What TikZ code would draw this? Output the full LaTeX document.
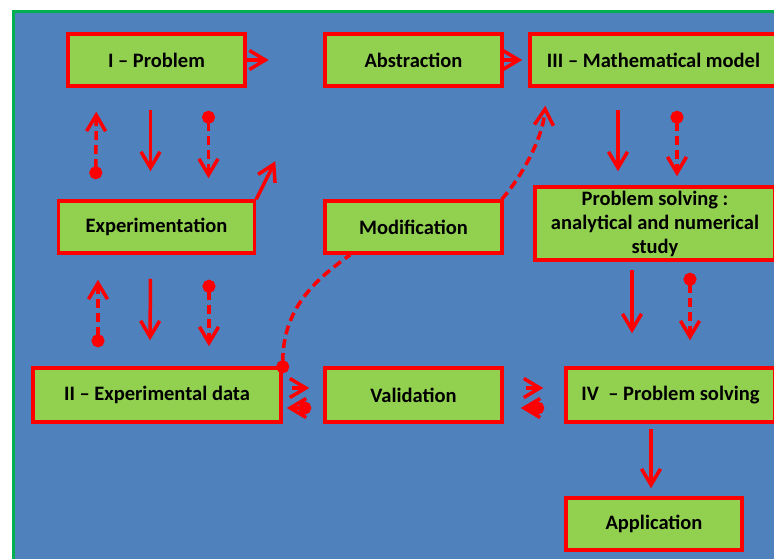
\documentclass[tikz,border=0pt]{standalone}
\usepackage{fontspec}
\setmainfont{Carlito}
\usetikzlibrary{positioning,calc,arrows.meta}
\definecolor{bgblue}{RGB}{79,129,189}
\definecolor{boxgreen}{RGB}{146,208,80}
\definecolor{framegreen}{RGB}{0,176,80}
\tikzset{box/.style = {draw=red, line width=3.5pt, fill=boxgreen, align=center, inner sep=2pt,
                       font=\bfseries\fontsize{20.5}{24}\selectfont, minimum height=52pt},
         arr/.style = {red, line width=3.5pt, -{Straight Barb[length=16pt,width=19pt]}},
         dasharr/.style = {arr, dash pattern=on 9pt off 5pt},
         dotarr/.style = {dasharr, {Circle[length=13pt]}-{Straight Barb[length=16pt,width=19pt]}},
         dotline/.style = {red, line width=3.5pt, dash pattern=on 9pt off 5pt, {Circle[length=13pt]}-}}

\begin{document}
\begin{tikzpicture}[x=1pt, y=-1pt, every node/.style = box]
            \useasboundingbox (0,0) rectangle (774,558);
            \fill[white] (0,0) rectangle (774,558);
            \draw[framegreen, line width=3pt, fill=bgblue] (13,11) rectangle (800,580);

            \node[minimum width=177pt] (prob) at (156.5,60) {I -- Problem};
            \node[minimum width=177pt] (abs) at (413.5,60) {Abstraction};
            \node[minimum width=247pt] (model) at (653.5,60) {III -- Mathematical model};

            \node[minimum width=196pt] (exp) at (156.5,227) {Experimentation};
            \node[minimum width=177pt] (mod) at (413.5,227) {Modification};
            \node[minimum width=240pt, minimum height=73pt] (solve) at (655,223.5)
                {Problem solving :\\ analytical and numerical\\ study};

            \node[minimum width=248pt, minimum height=54pt] (data) at (157,395) {II -- Experimental data};
            \node[minimum width=177pt, minimum height=54pt] (val) at (413.5,395) {Validation};
            \node[minimum width=209pt, minimum height=54pt] (iv) at (670.5,395) {IV\ \ -- Problem solving};

            \node[minimum width=176pt] (app) at (654,524) {Application};

            % top row
            \draw[arr] (prob.east) -- +(22,0);
            \draw[arr, shorten >=6pt] (abs.east) -- (model.west);
            \draw[arr] (exp.north east) -- +(19,-38);

            % problem / experimentation
            \draw[dotarr] ($(exp.north west)+(39,-20)$) -- ($(prob.south west)+(30,24)$);
            \draw[arr] ($(prob.south)+(-6,22)$) -- ($(exp.north)+(-6,-28)$);
            \draw[dotarr] ($(prob.south)+(52,23)$) -- ($(exp.north)+(52,-21)$);

            % experimentation / data
            \draw[dotarr] ($(data.north)+(-59,-19)$) -- ($(exp.south)+(-58.5,25)$);
            \draw[arr] ($(exp.south)+(-6,24)$) -- ($(data.north)+(-7,-26)$);
            \draw[dotarr] ($(exp.south)+(52.5,25)$) -- ($(data.north)+(52,-20)$);

            % model / solving / application
            \draw[arr] ($(model.south)+(-35.5,22)$) -- ($(solve.north)+(-37,-14)$);
            \draw[dotarr] ($(model.south)+(23.5,23)$) -- ($(solve.north)+(22,-9)$);
            \draw[arr] ($(solve.south)+(-23,8)$) -- ($(iv.north)+(-38.5,-33)$);
            \draw[dotarr] ($(solve.south)+(35,11)$) -- ($(iv.north)+(19.5,-26)$);
            \draw[arr] ($(iv.south)+(-19.5,5)$) -- ($(app.north)+(-3,-8)$);

            % validation loop
            \draw[arr] ($(data.east)+(9,-7)$) -- ($(val.west)+(-14,-7)$);
            \draw[dotarr] ($(val.west)+(-12,13)$) -- ($(data.east)+(4,13)$);
            \draw[arr] ($(val.east)+(22,-7)$) -- ($(iv.west)+(-21,-7)$);
            \draw[dotarr] ($(iv.west)+(-20,13)$) -- ($(val.east)+(17,13)$);

            % modification curves
            \draw[dotline] ($(data.north east)+(0,7)$) .. controls +(0,-65) and +(-35,25) .. ($(mod.south west)+(27,0)$);
            \draw[dasharr] ($(mod.north east)+(-2,0)$) .. controls +(22,-25) and +(-2,30) .. ($(model.south west)+(17,18)$);
        \end{tikzpicture}
\end{document}
